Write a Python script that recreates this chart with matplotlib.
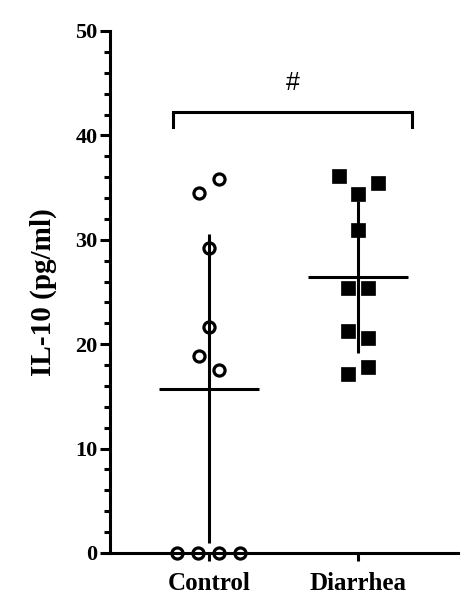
import numpy as np
import matplotlib
matplotlib.use("Agg")
import matplotlib.pyplot as plt
from matplotlib.ticker import MultipleLocator

# values (pg/ml)
groups = ["Control", "Diarrhea"]
control_vals = [34.5, 35.8, 29.2, 21.6, 18.9, 17.5, 0, 0, 0, 0]
diarrhea_vals = [36.1, 35.4, 34.4, 30.9, 25.4, 25.4, 21.3, 20.6, 17.8, 17.1]
# horizontal scatter of the points, in category units
control_jit = [-0.067, 0.067, 0, 0, -0.067, 0.067, -0.215, -0.074, 0.067, 0.208]
diarrhea_jit = [-0.128, 0.134, 0, 0, -0.067, 0.067, -0.067, 0.067, 0.067, -0.067]
sig_label = "#"

plt.rcParams['font.family'] = ['Liberation Serif', 'DejaVu Serif']
plt.rcParams['font.weight'] = 'bold'

fig = plt.figure(figsize=(4.74, 6.16), dpi=100)
ax = fig.add_axes([0.232, 0.1023, 0.734, 0.8474])

lw = 2.2
for i, (vals, jit) in enumerate([(control_vals, control_jit), (diarrhea_vals, diarrhea_jit)]):
    vals = np.array(vals)
    m = vals.mean()
    sd = vals.std(ddof=1)
    ax.vlines(i, m - sd, m + sd, color='black', lw=lw, zorder=2)
    ax.hlines(m, i - 0.335, i + 0.335, color='black', lw=lw, zorder=2)
    xs = i + np.array(jit)
    if i == 0:
        ax.plot(xs, vals, 'o', ms=8.0, mfc='none', mec='black', mew=2.3,
                clip_on=False, zorder=3)
    else:
        ax.plot(xs, vals, 's', ms=9.4, mfc='black', mec='black', mew=0.5,
                clip_on=False, zorder=3)

# significance bracket
ax.plot([-0.24, -0.24, 1.362, 1.362], [40.8, 42.25, 42.25, 40.8],
        color='black', lw=lw, solid_joinstyle='miter', clip_on=False)
ax.text(0.564, 45.0, sig_label, ha='center', va='center', fontsize=18,
        fontweight='normal', family='Liberation Sans')

ax.set_xlim(-0.664, 1.671)
ax.set_ylim(0, 50)
ax.set_xticks([0, 1])
ax.set_xticklabels(groups, fontsize=18, fontweight='bold')
ax.yaxis.set_major_locator(MultipleLocator(10))
ax.yaxis.set_minor_locator(MultipleLocator(2))
for lab in ax.get_yticklabels():
    lab.set_fontsize(16)
    lab.set_fontweight('bold')
ax.set_ylabel("IL-10 (pg/ml)", fontsize=21, fontweight='bold', labelpad=13)

for side in ['top', 'right']:
    ax.spines[side].set_visible(False)
for side in ['left', 'bottom']:
    ax.spines[side].set_linewidth(lw)
ax.tick_params(axis='y', which='major', length=7, width=lw, pad=2)
ax.tick_params(axis='y', which='minor', length=4.5, width=lw)
ax.tick_params(axis='x', which='major', length=6, width=lw, pad=8)

fig.savefig("out.png", dpi=100)
